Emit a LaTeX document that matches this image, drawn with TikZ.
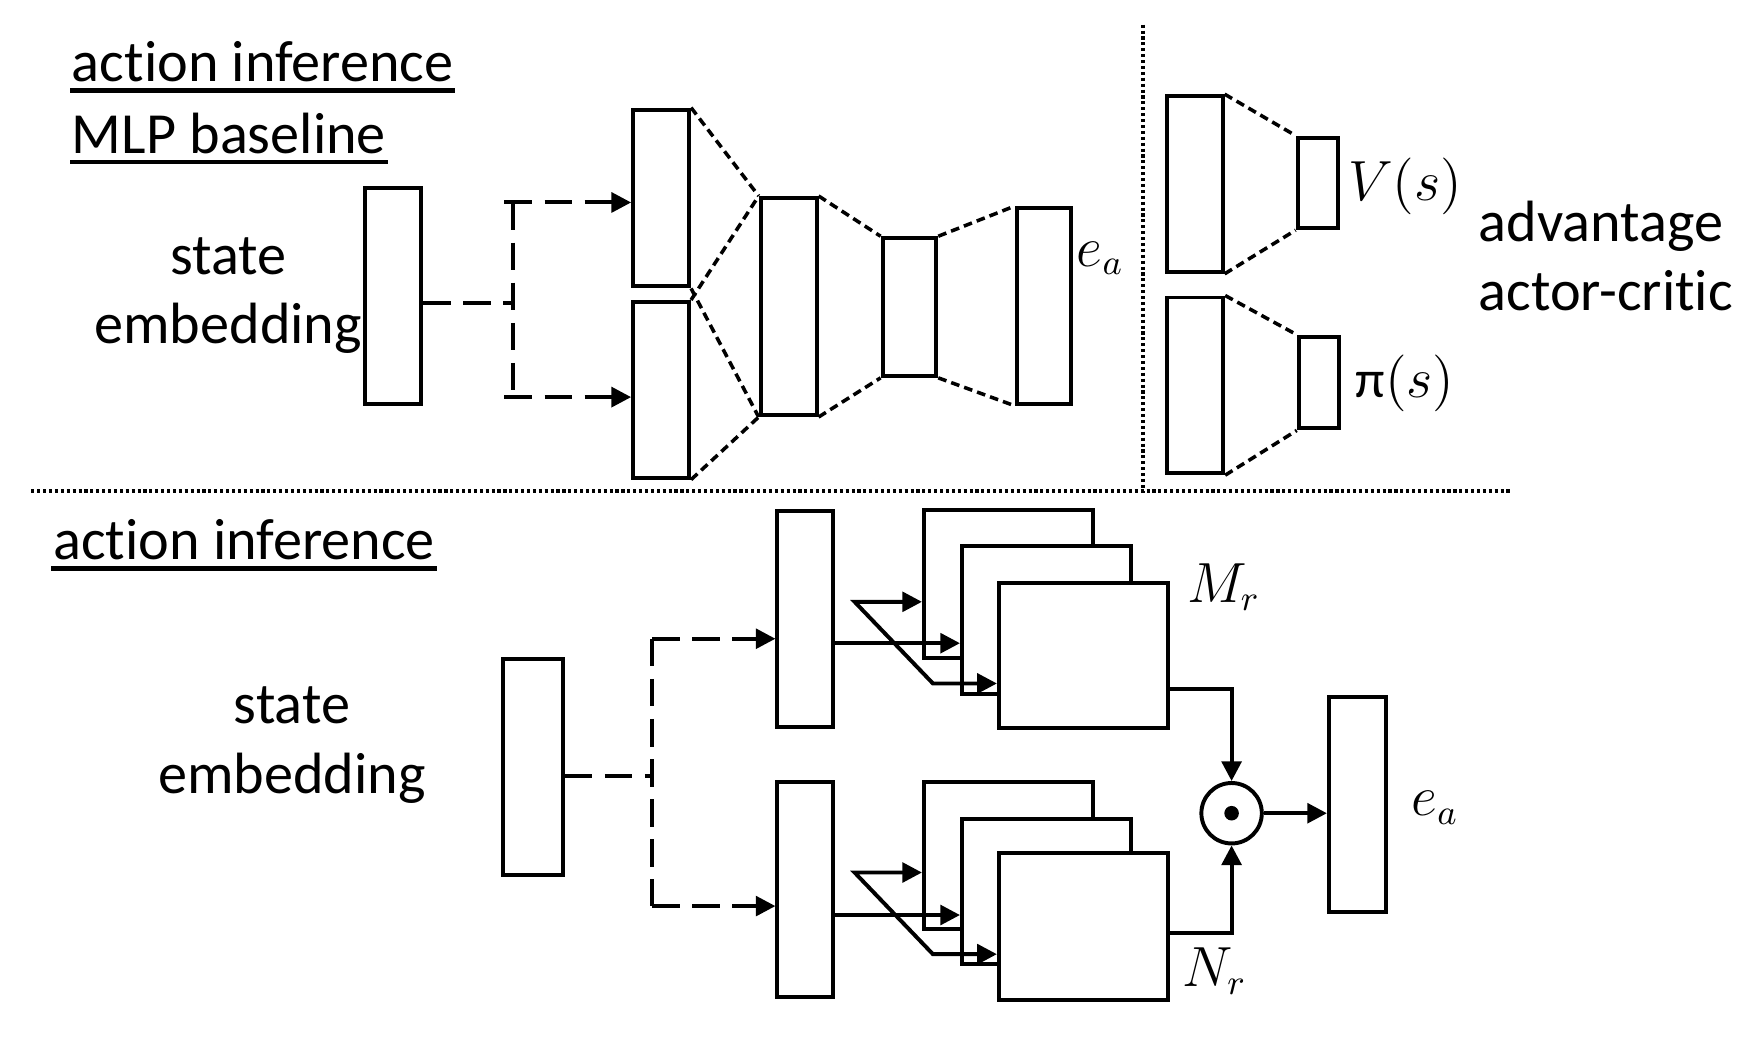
\documentclass[tikz,border=0pt]{standalone}
\usepackage{fontspec}
\setmainfont{Carlito}[RawFeature={-liga;-clig;-calt;-dlig}]
\usepackage{tikz}
\usetikzlibrary{positioning, calc, arrows.meta}

\begin{document}
\begin{tikzpicture}[x=0.01cm, y=-0.01cm, line width=1pt]
        % Define block styles
        \tikzstyle{layerbox} = [rectangle, draw, fill=white, inner sep=0pt, minimum width=0.5cm]
        \tikzstyle{lbl} = [font=\fontsize{14.8}{17.6}\selectfont, inner sep=0pt]
        \tikzstyle{mlbl} = [font=\fontsize{13.5}{15}\selectfont, inner sep=0pt]
        \tikzstyle{heading} = [lbl, anchor=base west]
        \tikzstyle{uline} = [line width=1.2pt]
        \tikzstyle{feed} = [dash pattern=on 7pt off 3.2pt]
        \tikzstyle{link} = [dash pattern=on 2.2pt off 1.3pt, line width=0.9pt]
        \tikzstyle{divider} = [dash pattern=on 0.8pt off 0.7pt, line width=1.1pt]
        \tikzstyle{arr} = [-{Triangle[length=5pt, width=5pt]}]
        \tikzstyle{reorder} = [{Triangle[length=5pt, width=5pt]}-{Triangle[length=5pt, width=5pt]}]

        \useasboundingbox (0,0) rectangle (1568,940);

        % Place nodes: MLP baseline
        \node [heading] (title1) at (62.6,73) {action inference};
        \node [heading] (title2) at (62.6,137) {MLP baseline};
        \node [lbl, align=center] (state1) at (204,264) {state\\embedding};
        \node [layerbox, minimum height=1.93cm] (se1) at (351.5,264.5) {};
        \node [layerbox, minimum height=1.58cm] (a1) at (591,177) {};
        \node [layerbox, minimum height=1.57cm] (a2) at (591,348.5) {};
        \node [layerbox, minimum height=1.94cm] (hb) at (705,274) {};
        \node [layerbox, minimum width=0.48cm, minimum height=1.23cm] (hc) at (813,274.5) {};
        \node [layerbox, minimum width=0.48cm, minimum height=1.75cm] (hd) at (933,273.5) {};
        \node [mlbl, anchor=west] (ea1) at (961,231) {$e_a$};

        % Place nodes: advantage actor-critic
        \node [layerbox, minimum height=1.57cm] (vb) at (1068,164.5) {};
        \node [layerbox, minimum width=0.36cm, minimum height=0.81cm] (vs) at (1178,163.5) {};
        \node [mlbl] (vlab) at (1256,167) {$V(s)$};
        \node [layerbox, minimum height=1.57cm] (pb) at (1068.5,344.5) {};
        \node [layerbox, minimum width=0.36cm, minimum height=0.82cm] (ps) at (1179,342) {};
        \node [mlbl] (plab) at (1256,343) {π$(s)$};
        \node [lbl, align=left, anchor=west] (a2c) at (1320,229) {advantage\\actor-critic};

        % Place nodes: action inference
        \node [heading] (title3) at (46,500.6) {action inference};
        \node [lbl, align=center] (state2) at (261,666) {state\\embedding};
        \node [layerbox, minimum width=0.53cm, minimum height=1.93cm] (se2) at (476.5,685.5) {};
        \node [layerbox, minimum height=1.93cm] (u1) at (720,553.5) {};
        \node [layerbox, minimum height=1.92cm] (l1) at (720,795) {};
        \node [layerbox, minimum width=1.51cm, minimum height=1.32cm] (bk1) at (901.5,522) {};
        \node [layerbox, minimum width=1.51cm, minimum height=1.32cm] (md1) at (935.5,554) {};
        \node [layerbox, minimum width=1.51cm, minimum height=1.30cm] (fr1) at (968.5,586) {};
        \node [layerbox, minimum width=1.51cm, minimum height=1.31cm] (bk2) at (901.5,765) {};
        \node [layerbox, minimum width=1.51cm, minimum height=1.30cm] (md2) at (935.5,797) {};
        \node [layerbox, minimum width=1.51cm, minimum height=1.31cm] (fr2) at (968.5,828.5) {};
        \node [mlbl] (mr) at (1094,525) {$M_r$};
        \node [mlbl] (nr) at (1086,868) {$N_r$};
        \node [circle, draw, fill=white, minimum size=0.54cm, inner sep=0pt] (prod) at (1101,727) {};
        \fill (prod.center) circle (0.065cm);
        \node [layerbox, minimum width=0.51cm, minimum height=1.92cm] (ea2) at (1213.5,719) {};
        \node [mlbl] (ea2lab) at (1283,722) {$e_a$};

        % Underlines and dividers
        \draw [uline] ([yshift=-2.2pt]title1.base west) -- ([yshift=-2.2pt]title1.base east);
        \draw [uline] ([yshift=-2.2pt]title2.base west) -- ([yshift=-2.2pt]title2.base east);
        \draw [uline] ([yshift=-2.2pt]title3.base west) -- ([yshift=-2.2pt]title3.base east);
        \draw [divider] (1022,22) -- (1022,441);
        \draw [divider] (28,439) -- (1351,439);

        % Draw connections: MLP baseline
        \coordinate (fork1) at (459,271);
        \coordinate (fork1t) at (459,181);
        \coordinate (fork1b) at (459,355);
        \draw [feed] (se1.east |- fork1) -- (fork1);
        \draw [feed] (fork1t) -- (fork1b);
        \draw [feed, arr] ([xshift=-0.08cm]fork1t) -- (a1.west |- fork1t);
        \draw [feed, arr] ([xshift=-0.08cm]fork1b) -- (a2.west |- fork1b);
        \draw [link] (a1.north east) -- (hb.north west);
        \draw [link] (a1.south east) -- (hb.south west);
        \draw [link] (a2.north east) -- (hb.north west);
        \draw [link] (a2.south east) -- (hb.south west);
        \draw [link] (hb.north east) -- (hc.north west);
        \draw [link] (hb.south east) -- (hc.south west);
        \draw [link] (hc.north east) -- (hd.north west);
        \draw [link] (hc.south east) -- (hd.south west);
        \draw [link] (vb.north east) -- (vs.north west);
        \draw [link] (vb.south east) -- (vs.south west);
        \draw [link] (pb.north east) -- (ps.north west);
        \draw [link] (pb.south east) -- (ps.south west);

        % Draw connections: action inference
        \coordinate (fork2) at (583,694);
        \coordinate (fork2t) at (583,571);
        \coordinate (fork2b) at (583,810);
        \draw [feed] (se2.east |- fork2) -- (fork2);
        \draw [feed] (fork2t) -- (fork2b);
        \draw [feed, arr] (fork2t) -- (u1.west |- fork2t);
        \draw [feed, arr] (fork2b) -- (l1.west |- fork2b);
        \draw [arr] (u1.east |- 0,575) -- (md1.west |- 0,575);
        \draw [reorder] (bk1.west |- 0,538) -- (764,538) -- (834,611) -- (fr1.west |- 0,611);
        \draw [arr] (l1.east |- 0,818) -- (md2.west |- 0,818);
        \draw [reorder] (bk2.west |- 0,780) -- (764,780) -- (834,853) -- (fr2.west |- 0,853);
        \draw [arr] ([yshift=-0.30cm]fr1.east) -| (prod.north);
        \draw [arr] ([yshift=-0.055cm]fr2.east) -| (prod.south);
        \draw [arr] (prod.east) -- (prod.east -| ea2.west);

    \end{tikzpicture}
\end{document}
